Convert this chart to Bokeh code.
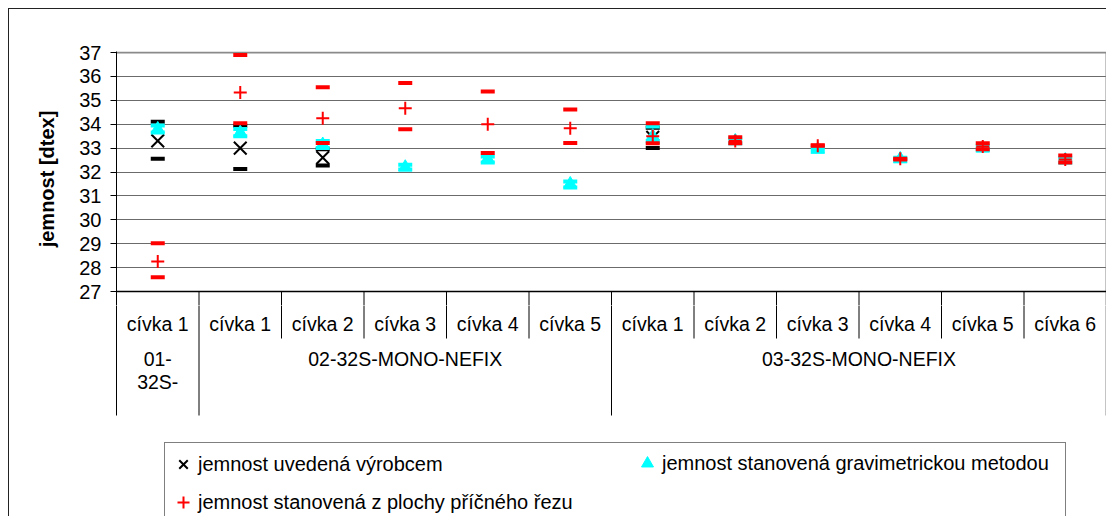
import numpy as np
from bokeh.plotting import figure
from bokeh.layouts import column
from bokeh.models import (Range1d, FixedTicker, Legend, LegendItem,
                          InlineStyleSheet)
from bokeh.core.properties import value
from bokeh.embed import file_html
from bokeh.resources import INLINE

nan = float("nan")

# ---------------- data ----------------
categories = ["cívka 1", "cívka 1", "cívka 2", "cívka 3", "cívka 4", "cívka 5",
              "cívka 1", "cívka 2", "cívka 3", "cívka 4", "cívka 5", "cívka 6"]
group_labels = ["01-\n32S-", "02-32S-MONO-NEFIX", "03-32S-MONO-NEFIX"]
group_sizes = [1, 5, 6]

# jemnost uvedená výrobcem (value, upper, lower)
vyrobce = [33.3, 33.0, 32.6, nan, nan, nan, 33.45, nan, nan, nan, nan, nan]
vyrobce_max = [34.1, 33.93, 32.95, nan, nan, nan, 33.85, nan, nan, nan, nan, nan]
vyrobce_min = [32.55, 32.13, 32.27, nan, nan, nan, 33.0, nan, nan, nan, nan, nan]

# jemnost stanovená gravimetrickou metodou
grav = [33.8, 33.65, 33.15, 32.2, 32.55, 31.5, 33.5, 33.3, 32.95, 32.55, 33.0, 32.5]
grav_max = [33.95, 33.8, 33.3, 32.3, 32.65, 31.6, 33.9, 33.4, 33.0, 32.6, 33.1, 32.6]
grav_min = [33.65, 33.5, 33.0, 32.1, 32.4, 31.35, 33.3, 33.2, 32.85, 32.45, 32.9, 32.4]

# jemnost stanovená z plochy příčného řezu
rez = [28.26, 35.33, 34.25, 34.67, 34.0, 33.83, 33.5, 33.3, 33.1, 32.55, 33.07, 32.52]
rez_max = [29.02, 36.9, 35.55, 35.72, 35.37, 34.62, 34.04, 33.45, 33.12, 32.55, 33.2, 32.69]
rez_min = [27.6, 34.04, 33.21, 33.79, 32.79, 33.21, 33.2, 33.2, 33.1, 32.52, 32.95, 32.4]

y_ticks = list(range(27, 38))
series_names = ["jemnost uvedená výrobcem",
                "jemnost stanovená gravimetrickou metodou",
                "jemnost stanovená z plochy příčného řezu"]
y_title = "jemnost [dtex]"

# ---------------- layout constants ----------------
FONT = value("Liberation Sans")
PX = 23.9                      # pixels per dtex
Y_MIN, Y_MAX = 27, 37
TOP_H, BOT_H = 297, 211        # canvas heights of the two stacked figures
TOP_HI = Y_MAX + 1 / PX
TOP_LO = Y_MIN - 15 / PX
BOT_LO = TOP_LO - BOT_H / PX
TABLE_BOTTOM = Y_MIN - 125 / PX
ROW1_BOTTOM = Y_MIN - 48 / PX
CAT_Y = Y_MIN - 33 / PX
GROUP_Y_TOP = Y_MIN - 57 / PX

n = len(categories)
xs = np.arange(n) + 0.5
xr = Range1d(0, n + 1 / 82.5)

RED, CYAN, BLACK = "#ff0000", "#00ffff", "#000000"
GRID = "#6b6b6b"
FRAME = "#8a8a8a"

top = figure(width=1098, height=TOP_H, output_backend="svg", toolbar_location=None,
             x_range=xr, y_range=Range1d(TOP_LO, TOP_HI),
             min_border_left=107, min_border_right=0, min_border_top=42,
             min_border_bottom=0)
bot = figure(width=1098, height=BOT_H, output_backend="svg", toolbar_location=None,
             x_range=xr, y_range=Range1d(BOT_LO, TOP_LO),
             min_border_left=107, min_border_right=0, min_border_top=0,
             min_border_bottom=0)

for f in (top, bot):
    f.outline_line_color = None
    f.background_fill_color = "white"
    f.border_fill_color = "white"
    f.xaxis.visible = False
    f.xgrid.visible = False

top.stylesheets.append(InlineStyleSheet(
    css=":host { border-left: 1px solid #222; border-top: 1px solid #222; }"))
bot.stylesheets.append(InlineStyleSheet(
    css=":host { border-left: 1px solid #222; }"))

# ---- top: value axis ----
top.ygrid.ticker = FixedTicker(ticks=y_ticks[1:-1])
top.ygrid.grid_line_color = GRID
top.ygrid.grid_line_width = 1

ax = top.yaxis[0]
ax.ticker = FixedTicker(ticks=y_ticks)
ax.axis_line_color = BLACK
ax.major_tick_out = 6
ax.major_tick_in = 0
ax.minor_tick_line_color = None
ax.major_tick_line_color = BLACK
ax.major_label_text_font = "Liberation Sans"
ax.major_label_text_font_size = "20px"
ax.major_label_text_color = BLACK
ax.major_label_standoff = 9
ax.axis_label = y_title
ax.axis_label_text_font = "Liberation Sans"
ax.axis_label_text_font_size = "20px"
ax.axis_label_text_font_style = "bold"
ax.axis_label_text_color = BLACK
ax.axis_label_standoff = 18

# ---- bottom: only the left rule of the category table ----
bax = bot.yaxis[0]
bax.ticker = FixedTicker(ticks=[])
bax.bounds = (TABLE_BOTTOM, TOP_LO)
bax.axis_line_color = BLACK
bax.major_tick_line_color = None
bax.minor_tick_line_color = None
bax.major_label_text_font_size = "0px"
bot.ygrid.visible = False

# ---- plot-area frame, x axis line and table rules (drawn on both) ----
bounds = np.cumsum([0] + group_sizes)
inner = [b for b in range(1, n) if b not in bounds]
gb = [int(b) for b in bounds[1:-1]]
for f in (top, bot):
    f.segment(x0=[n], y0=[TABLE_BOTTOM], x1=[n], y1=[Y_MAX], line_color=FRAME,
              line_width=2)
    f.segment(x0=inner, y0=[Y_MIN] * len(inner), x1=inner,
              y1=[ROW1_BOTTOM] * len(inner), line_color=BLACK, line_width=1)
    f.segment(x0=gb, y0=[Y_MIN] * len(gb), x1=gb, y1=[TABLE_BOTTOM] * len(gb),
              line_color=BLACK, line_width=1)
top.segment(x0=[0], y0=[Y_MAX], x1=[n], y1=[Y_MAX], line_color=FRAME, line_width=2)
top.segment(x0=[0], y0=[Y_MIN], x1=[n], y1=[Y_MIN], line_color=BLACK, line_width=1.5)

bot.text(x=xs, y=[CAT_Y] * n, text=categories, text_align="center",
         text_baseline="middle", text_font=FONT, text_font_size="19.5px",
         text_color=BLACK)
gx = [(bounds[i] + bounds[i + 1]) / 2 for i in range(len(group_sizes))]
bot.text(x=gx, y=[GROUP_Y_TOP] * len(gx), text=group_labels, text_align="center",
         text_baseline="top", text_font=FONT, text_font_size="19.5px",
         text_color=BLACK, text_line_height=1.05)

# ---------------- series ----------------
DASH = dict(marker="dash", size=14, line_width=4)
X_STYLE = dict(marker="x", line_color=BLACK, line_width=2)
TRI_STYLE = dict(marker="triangle", fill_color=CYAN, line_color=CYAN, line_width=1)
PLUS_STYLE = dict(marker="cross", line_color=RED, line_width=2)

top.scatter(xs, vyrobce_max, line_color=BLACK, **DASH)
top.scatter(xs, vyrobce_min, line_color=BLACK, **DASH)
top.scatter(xs, vyrobce, size=18, **X_STYLE)

top.scatter(xs, grav_max, line_color=CYAN, **DASH)
top.scatter(xs, grav_min, line_color=CYAN, **DASH)
top.scatter(xs, grav, size=13, **TRI_STYLE)

top.scatter(xs, rez_max, line_color=RED, **DASH)
top.scatter(xs, rez_min, line_color=RED, **DASH)
top.scatter(xs, rez, size=13, **PLUS_STYLE)

# legend renderers (same series on the lower figure, outside its visible range)
l_x = bot.scatter(xs, vyrobce, size=18, **X_STYLE)
l_tri = bot.scatter(xs, grav, size=13, **TRI_STYLE)
l_plus = bot.scatter(xs, rez, size=13, **PLUS_STYLE)

LEG = dict(glyph_width=30, glyph_height=36, label_height=36, padding=3, margin=0,
           label_standoff=-6, spacing=2, label_text_font="Liberation Sans",
           label_text_font_size="20px", label_text_color=BLACK)

leg_a = Legend(items=[LegendItem(label=series_names[0], renderers=[l_x]),
                      LegendItem(label=series_names[2], renderers=[l_plus])],
               location=(48, -8), orientation="vertical",
               label_width=864, border_line_color=BLACK, border_line_width=1,
               background_fill_color="white", background_fill_alpha=1, **LEG)
leg_b = Legend(items=[LegendItem(label=series_names[1], renderers=[l_tri])],
               location=(516, 35), orientation="vertical",
               border_line_color=None, background_fill_alpha=0, **LEG)
bot.add_layout(leg_a)
bot.add_layout(leg_b)

layout = column(top, bot, spacing=0, margin=(8, 8, 0, 8))
open("out.html", "w").write(file_html(layout, INLINE))
